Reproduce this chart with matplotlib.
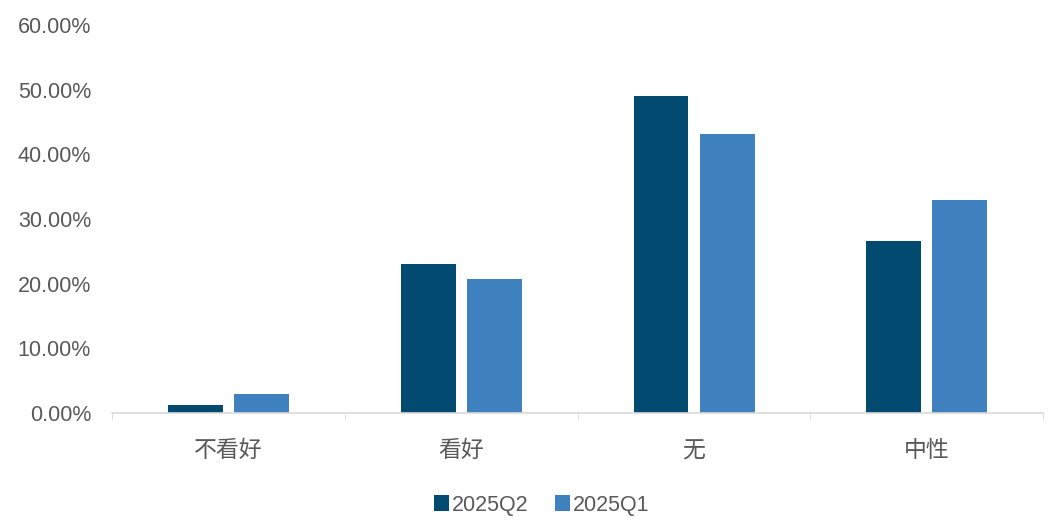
import numpy as np
import matplotlib.pyplot as plt
from matplotlib.ticker import FuncFormatter, FixedLocator

plt.rcParams['font.family'] = ['Liberation Sans', 'Noto Sans CJK SC', 'DejaVu Sans']

# data (percent)
categories = ['不看好', '看好', '无', '中性']
q2 = [1.2, 23.1, 49.1, 26.6]
q1 = [2.9, 20.7, 43.1, 33.0]
series_names = ['2025Q2', '2025Q1']

dark = '#024A70'
light = '#3F80BF'
text_col = '#595959'

fig = plt.figure(figsize=(10.56, 5.25), dpi=100)
ax = fig.add_axes([0.106, 0.2133, 0.882, 0.7387])

x = np.arange(len(categories))
w = 0.236
ax.bar(x - 0.142, q2, w, color=dark, label=series_names[0])
ax.bar(x + 0.142, q1, w, color=light, label=series_names[1])

ax.set_xlim(-0.5, len(categories) - 0.5)
ax.set_ylim(0, 60)
ax.set_yticks(np.arange(0, 61, 10))
ax.yaxis.set_major_formatter(FuncFormatter(lambda v, p: '%.2f%%' % v))
ax.tick_params(axis='y', length=0, labelsize=15.5, labelcolor=text_col, pad=15)

ax.set_xticks(x)
ax.set_xticklabels(categories, fontfamily=['Noto Sans CJK SC', 'DejaVu Sans'])
ax.tick_params(axis='x', which='major', length=0, labelsize=16.5, labelcolor=text_col, pad=19)
ax.xaxis.set_minor_locator(FixedLocator(np.arange(-0.5, len(categories), 1)))
ax.tick_params(axis='x', which='minor', length=5, color='#D9D9D9', direction='out')

for s in ['top', 'right', 'left']:
    ax.spines[s].set_visible(False)
ax.spines['bottom'].set_color('#D9D9D9')
ax.spines['bottom'].set_linewidth(1.2)

fig.legend(loc='center', bbox_to_anchor=(0.513, 0.038), ncol=2, frameon=False,
           fontsize=15.5, labelcolor=text_col, handlelength=0.7, handleheight=0.7,
           handletextpad=0.15, columnspacing=1.2)

plt.savefig('out.png', dpi=100)
